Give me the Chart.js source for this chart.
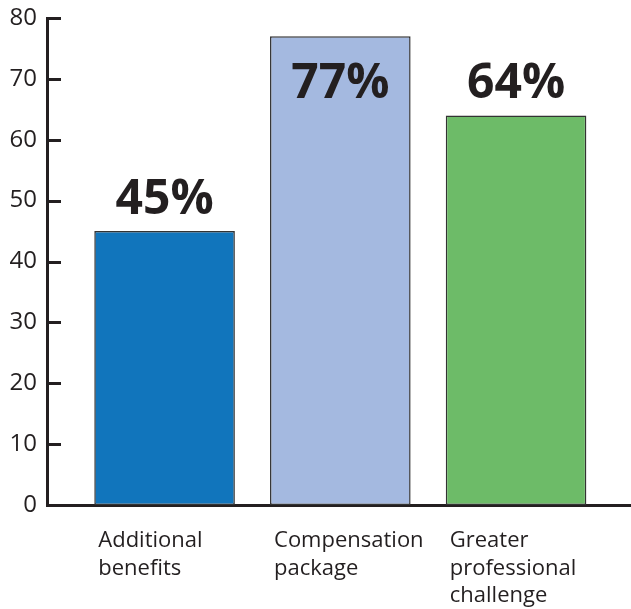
<!DOCTYPE html>
<html lang="en">
<head>
<meta charset="UTF-8">
<title>Reasons for changing jobs</title>
<script src="https://cdn.jsdelivr.net/npm/chart.js"></script>
<style>
  html, body { margin: 0; padding: 0; background: #fff; }
  canvas { display: block; }
</style>
</head>
<body>
<canvas id="chart" width="631" height="609"></canvas>
<script>
// data
const categories = [
  ['Additional', 'benefits'],
  ['Compensation', 'package'],
  ['Greater', 'professional', 'challenge']
];
const percents = [45, 77, 64];
const barColors = ['#1175bc', '#a4b9e0', '#6dbb68'];
const yMin = 0, yMax = 80, yStep = 10;

const ink = '#231f20';
const font = '"Open Sans", "DejaVu Sans", sans-serif';

// y ticks drawn pointing into the plot
const innerTicks = {
  id: 'innerTicks',
  afterDraw(chart) {
    const { ctx, chartArea, scales: { y } } = chart;
    ctx.save();
    ctx.strokeStyle = ink;
    ctx.lineWidth = 3;
    y.ticks.forEach(t => {
      const py = Math.round(y.getPixelForValue(t.value)) + 0.5;
      ctx.beginPath();
      ctx.moveTo(chartArea.left, py);
      ctx.lineTo(chartArea.left + 14, py);
      ctx.stroke();
    });
    ctx.restore();
  }
};

// big percentage above each bar (kept inside the canvas for tall bars)
const valueLabels = {
  id: 'valueLabels',
  afterDatasetsDraw(chart) {
    const { ctx, chartArea } = chart;
    const meta = chart.getDatasetMeta(0);
    ctx.save();
    ctx.font = 'bold 48px ' + font;
    ctx.fillStyle = ink;
    ctx.textAlign = 'center';
    ctx.textBaseline = 'alphabetic';
    meta.data.forEach((bar, i) => {
      const base = Math.max(bar.y - 17, chartArea.top + 80);
      ctx.fillText(percents[i] + '%', bar.x, base);
    });
    ctx.restore();
  }
};

// category names, left aligned under each bar
const categoryLabels = {
  id: 'categoryLabels',
  afterDraw(chart) {
    const { ctx, chartArea } = chart;
    const meta = chart.getDatasetMeta(0);
    ctx.save();
    ctx.font = '22px ' + font;
    ctx.fillStyle = ink;
    ctx.textAlign = 'left';
    ctx.textBaseline = 'alphabetic';
    meta.data.forEach((bar, i) => {
      const left = bar.x - bar.width / 2 + 4;
      categories[i].forEach((line, j) => {
        ctx.fillText(line, left, chartArea.bottom + 42 + j * 27.5);
      });
    });
    ctx.restore();
  }
};

new Chart(document.getElementById('chart'), {
  type: 'bar',
  data: {
    datasets: [{
      data: percents.map((v, i) => ({ x: i, y: v })),
      backgroundColor: barColors,
      borderColor: '#333',
      borderWidth: 1.5,
      borderSkipped: false,
      categoryPercentage: 1,
      barPercentage: 0.8
    }]
  },
  options: {
    responsive: false,
    animation: false,
    layout: { padding: { top: 18, right: 0, bottom: 0, left: 0 } },
    plugins: { legend: { display: false }, tooltip: { enabled: false } },
    scales: {
      x: {
        type: 'linear',
        offset: false,
        min: -0.669,
        max: 2.654,
        // one tick per bar so bar width follows the bar spacing
        afterBuildTicks: s => { s.ticks = percents.map((_, i) => ({ value: i })); },
        ticks: { display: false },
        grid: { display: false, offset: false },
        border: { display: true, width: 3, color: ink },
        afterFit: s => { s.height = 104; }
      },
      y: {
        min: yMin,
        max: yMax,
        ticks: { stepSize: yStep, padding: 10, color: ink, font: { family: font, size: 24 } },
        grid: { display: false, drawTicks: false },
        border: { display: true, width: 3, color: ink },
        afterFit: s => { s.width = 47; s.paddingTop = 0; s.paddingBottom = 0; }
      }
    }
  },
  plugins: [innerTicks, valueLabels, categoryLabels]
});
</script>
</body>
</html>
